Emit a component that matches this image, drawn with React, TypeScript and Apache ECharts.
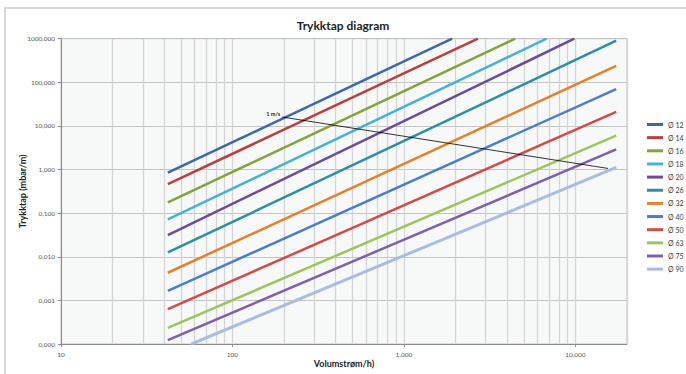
import React, { useEffect, useRef } from "react";
import * as echarts from "echarts";

const diameters = ["Ø 12", "Ø 14", "Ø 16", "Ø 18", "Ø 20", "Ø 26", "Ø 32", "Ø 40", "Ø 50", "Ø 63", "Ø 75", "Ø 90"];
const lineColors = ["#3d69a6", "#b8413e", "#84a23e", "#45b2cf", "#6b4d97", "#2f8ea3", "#e3812d", "#4a7fc8", "#d34b48", "#9dc55b", "#7e60ab", "#a8bde0"];
// start and end points (flow l/h, loss mbar/m)
const flowStart = [42, 42, 42, 42, 42, 42, 42, 42, 42, 42, 42, 57.5];
const lossStart = [0.845, 0.464, 0.177, 0.072, 0.0315, 0.0126, 0.0043, 0.00166, 0.00063, 0.000235, 0.000123, 0.0001];
const flowEnd = [1910, 2700, 4460, 6800, 9860, 17300, 17300, 17300, 17300, 17300, 17300, 17300];
const lossEnd = [1000, 1000, 1000, 1000, 1000, 900, 237, 70, 21, 6.0, 2.9, 1.12];
// 1 m/s velocity line
const velocityFlow = [195, 15500];
const velocityLoss = [16, 1.06];
// vertical grid lines between decades
const minorGridX = [20, 30, 40, 50, 60, 70, 80, 90, 200, 300, 400, 500, 600, 700, 800, 900, 2000, 3000, 4000, 5000, 6000, 7000, 8000, 9000];

const FONT = "Lato, 'Open Sans', sans-serif";
const GRID_COLOR = "#d5d5d5";

function fmtX(v: number): string {
  const l = Math.log10(v);
  if (Math.abs(l - Math.round(l)) > 1e-6) return "";
  const n = Math.round(v);
  return String(n).replace(/\B(?=(\d{3})+(?!\d))/g, ".");
}

function fmtY(v: number): string {
  return v.toFixed(3).replace(".", ",");
}

export default function App() {
  const ref = useRef<HTMLDivElement>(null);
  useEffect(() => {
    document.body.style.margin = "0";
    const chart = echarts.init(ref.current!, null, { renderer: "svg" });
    const pipeSeries = diameters.map((name, i) => ({
      name,
      type: "line",
      data: [
        [flowStart[i], lossStart[i]],
        [flowEnd[i], lossEnd[i]],
      ],
      showSymbol: false,
      clip: true,
      z: 3,
      lineStyle: { color: lineColors[i], width: i === diameters.length - 1 ? 3 : 2.5 },
      itemStyle: { color: lineColors[i] },
    }));
    const option: any = {
      animation: false,
      backgroundColor: "#ffffff",
      textStyle: { fontFamily: FONT },
      title: {
        text: "Trykktap diagram",
        left: "center",
        top: 14,
        textStyle: { fontSize: 12, fontWeight: "bold", color: "#222222", fontFamily: FONT },
      },
      graphic: [
        {
          type: "rect",
          shape: { x: 5, y: 8, width: 720, height: 420 },
          style: { fill: "none", stroke: "#cbcbcb", lineWidth: 1.5 },
          silent: true,
          z: -10,
        },
      ],
      grid: {
        left: 61,
        right: 59,
        top: 38.7,
        bottom: 30,
        show: true,
        backgroundColor: "#f7f8f8",
        borderColor: "#c4c4c4",
        borderWidth: 1,
      },
      legend: {
        data: diameters,
        orient: "vertical",
        left: 647,
        top: 120,
        padding: 0,
        itemWidth: 16,
        itemHeight: 3,
        itemGap: 4.15,
        icon: "rect",
        textStyle: { fontSize: 7, lineHeight: 9, color: "#404040", fontFamily: FONT },
      },
      xAxis: {
        type: "log",
        logBase: 10,
        min: 10,
        max: 20000,
        name: "Volumstrøm/h)",
        nameLocation: "middle",
        nameGap: 15,
        nameMoveOverlap: false,
        nameTextStyle: { fontSize: 9, fontWeight: "bold", color: "#222222", fontFamily: FONT },
        axisLine: { lineStyle: { color: "#8c8c8c", width: 1 } },
        axisTick: { show: true, length: 3, lineStyle: { color: "#8c8c8c" } },
        axisLabel: { formatter: fmtX, fontSize: 6.5, color: "#595959", margin: 7, showMaxLabel: false },
        splitLine: { show: true, lineStyle: { color: GRID_COLOR, width: 1.3 } },
      },
      yAxis: {
        type: "log",
        logBase: 10,
        min: 0.0001,
        max: 1000,
        name: "Trykktap (mbar/m)",
        nameLocation: "middle",
        nameGap: 34,
        nameMoveOverlap: false,
        nameTextStyle: { fontSize: 9, fontWeight: "bold", color: "#222222", fontFamily: FONT },
        axisLine: { show: true, lineStyle: { color: "#8c8c8c", width: 1 } },
        axisTick: { show: true, length: 3, lineStyle: { color: "#8c8c8c" } },
        axisLabel: { formatter: fmtY, fontSize: 6.5, color: "#595959", margin: 6 },
        splitLine: { show: true, lineStyle: { color: "#c4c4c4", width: 1.2 } },
      },
      series: [
        {
          name: "grid",
          type: "line",
          data: [],
          z: 1,
          silent: true,
          markLine: {
            silent: true,
            z: 1,
            symbol: "none",
            label: { show: false },
            lineStyle: { color: GRID_COLOR, width: 1.3, type: "solid" },
            data: minorGridX.map((v) => ({ xAxis: v })),
          },
        },
        ...pipeSeries,
        {
          name: "1 m/s",
          type: "line",
          z: 4,
          data: [
            {
              value: [velocityFlow[0], velocityLoss[0]],
              label: {
                show: true,
                formatter: "1 m/s",
                position: "left",
                distance: 2,
                offset: [0, -3],
                fontSize: 5.5,
                fontWeight: "bold",
                color: "#222222",
                fontFamily: FONT,
              },
            },
            [velocityFlow[1], velocityLoss[1]],
          ],
          showSymbol: true,
          symbol: "circle",
          symbolSize: 0.1,
          lineStyle: { color: "#000000", width: 0.8 },
          itemStyle: { color: "#000000" },
        },
      ],
    };
    chart.setOption(option);
    return () => chart.dispose();
  }, []);
  return <div ref={ref} style={{ width: 686, height: 374 }} />;
}
